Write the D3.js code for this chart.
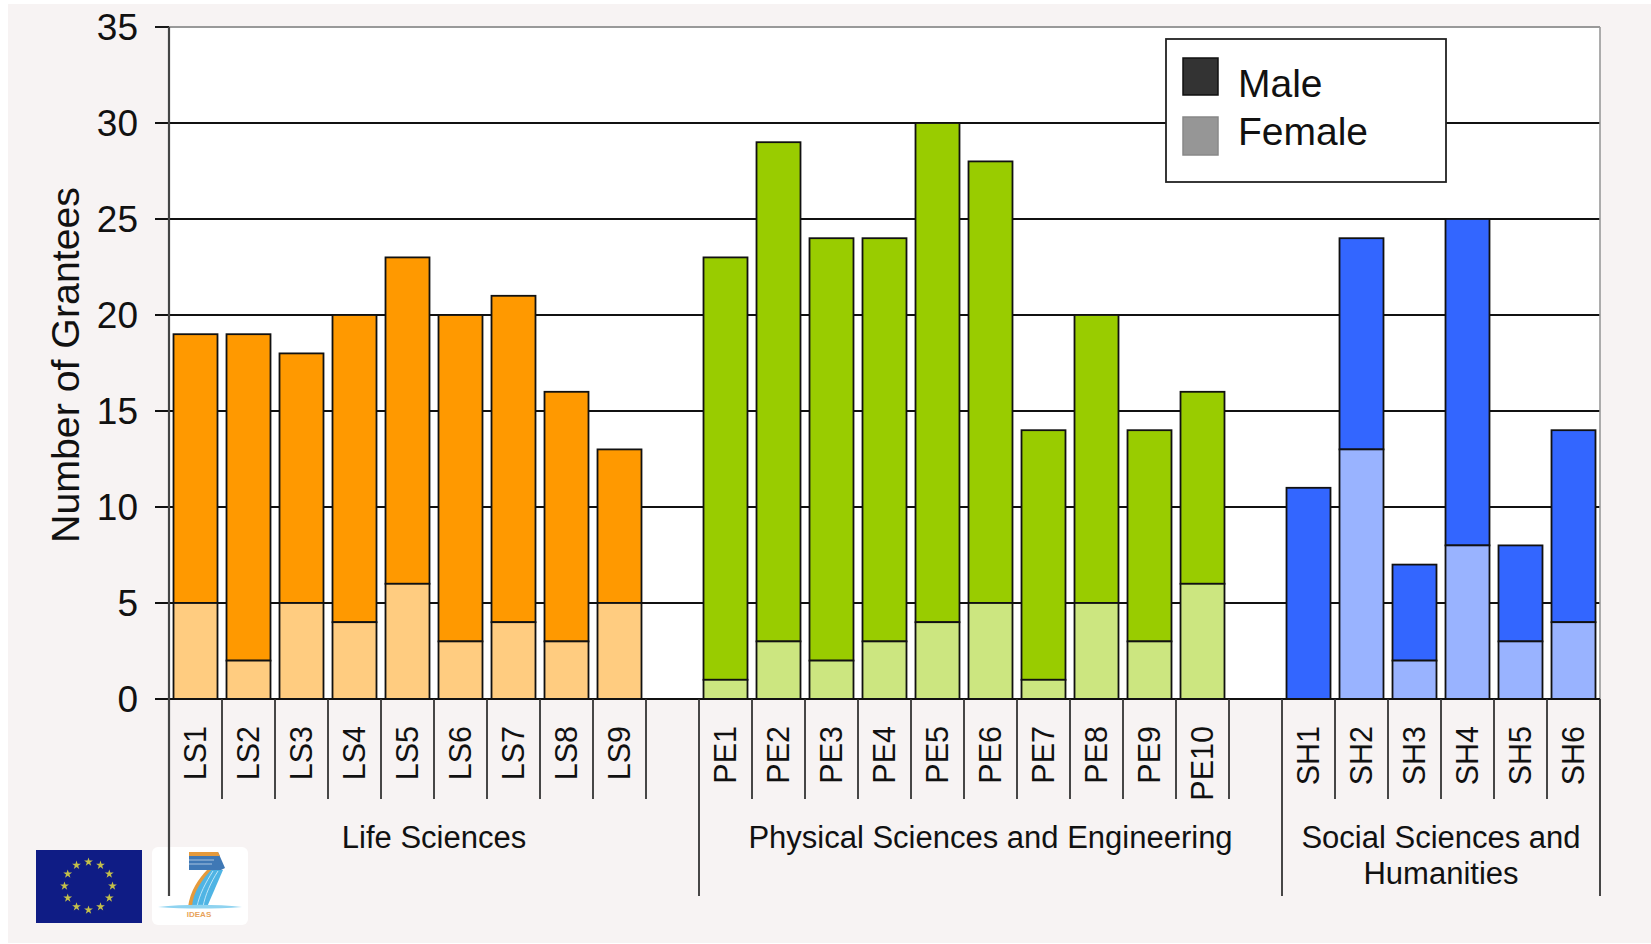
<!DOCTYPE html>
<html>
<head>
<meta charset="utf-8">
<script src="https://cdn.jsdelivr.net/npm/d3@7"></script>
<style>
  html, body { margin: 0; padding: 0; background: #fff; }
  svg { display: block; }
  text { font-family: "Liberation Sans", Arial, sans-serif; fill: #111; }
</style>
</head>
<body>
<div id="chart"></div>
<script>
// data
const lsCategories = ["LS1", "LS2", "LS3", "LS4", "LS5", "LS6", "LS7", "LS8", "LS9"];
const peCategories = ["PE1", "PE2", "PE3", "PE4", "PE5", "PE6", "PE7", "PE8", "PE9", "PE10"];
const shCategories = ["SH1", "SH2", "SH3", "SH4", "SH5", "SH6"];

const lsTotal = [19, 19, 18, 20, 23, 20, 21, 16, 13];
const lsFemale = [5, 2, 5, 4, 6, 3, 4, 3, 5];
const peTotal = [23, 29, 24, 24, 30, 28, 14, 20, 14, 16];
const peFemale = [1, 3, 2, 3, 4, 5, 1, 5, 3, 6];
const shTotal = [11, 24, 7, 25, 8, 14];
const shFemale = [0, 13, 2, 8, 3, 4];

const yTicks = [0, 5, 10, 15, 20, 25, 30, 35];
const groupNames = [["Life Sciences"], ["Physical Sciences and Engineering"], ["Social Sciences and", "Humanities"]];
const legendLabels = ["Male", "Female"];
const legendColors = ["#333333", "#969696"];

const groups = [
    { cats: lsCategories, total: lsTotal, female: lsFemale, male: "#ff9900", light: "#ffcc80" },
    { cats: peCategories, total: peTotal, female: peFemale, male: "#99cc00", light: "#cce680" },
    { cats: shCategories, total: shTotal, female: shFemale, male: "#3366ff", light: "#99b3ff" }
];

const W = 1651, H = 944;
const margin = { top: 27, right: 51, bottom: 245, left: 169 };
const plotW = W - margin.left - margin.right,
    plotH = H - margin.top - margin.bottom;

const svg = d3.select("#chart").append("svg")
    .attr("width", W)
    .attr("height", H);

// page background, the picture has a thin white edge top and left
svg.append("rect").attr("x", 8).attr("y", 4).attr("width", W - 8).attr("height", H - 5).attr("fill", "#f7f3f3");

const g = svg.append("g").attr("transform", "translate(" + margin.left + "," + margin.top + ")");

// two blank slots keep the groups apart
const slots = [...lsCategories, "gap1", ...peCategories, "gap2", ...shCategories];
const x = d3.scaleBand().domain(slots).range([0, plotW]).paddingInner(0.17).paddingOuter(0.085);
const y = d3.scaleLinear().domain([0, 35]).range([plotH, 0]);
const step = x.step();

g.append("rect").attr("width", plotW).attr("height", plotH).attr("fill", "#fff");

// gridlines and left ticks
const yAxis = g.append("g")
    .call(d3.axisLeft(y).tickValues(yTicks).tickSize(0).tickPadding(31).tickFormat(d3.format("d")));
yAxis.select(".domain").remove();
yAxis.selectAll("text").style("font-size", "37px").attr("dy", "0.34em");

g.selectAll("line.grid")
    .data(yTicks)
    .enter()
    .append("line")
    .attr("class", "grid")
    .attr("x1", -14)
    .attr("x2", plotW)
    .attr("y1", d => y(d))
    .attr("y2", d => y(d))
    .attr("stroke", d => d === 35 ? "#999" : "#111")
    .attr("stroke-width", 1.9);
g.append("line").attr("x1", -14).attr("x2", 0).attr("y1", y(35)).attr("y2", y(35)).attr("stroke", "#111").attr("stroke-width", 1.9);

// right border
g.append("line").attr("x1", plotW).attr("x2", plotW).attr("y1", 0).attr("y2", plotH).attr("stroke", "#999").attr("stroke-width", 1.6);

// bars, female at the bottom and male stacked on top
groups.forEach(group => {
    const rows = group.cats.map((c, i) => ({ cat: c, total: group.total[i], female: group.female[i] }));

    g.selectAll("rect.male-" + group.cats[0])
        .data(rows)
        .enter()
        .append("rect")
        .attr("class", "male-" + group.cats[0])
        .attr("x", d => x(d.cat))
        .attr("y", d => y(d.total))
        .attr("width", x.bandwidth())
        .attr("height", d => y(d.female) - y(d.total))
        .attr("fill", group.male)
        .attr("stroke", "#111")
        .attr("stroke-width", 1.8);

    g.selectAll("rect.female-" + group.cats[0])
        .data(rows.filter(d => d.female > 0))
        .enter()
        .append("rect")
        .attr("class", "female-" + group.cats[0])
        .attr("x", d => x(d.cat))
        .attr("y", d => y(d.female))
        .attr("width", x.bandwidth())
        .attr("height", d => y(0) - y(d.female))
        .attr("fill", group.light)
        .attr("stroke", "#111")
        .attr("stroke-width", 1.8);
});

// redraw the baseline over the bars
g.append("line").attr("x1", -14).attr("x2", plotW).attr("y1", plotH).attr("y2", plotH).attr("stroke", "#111").attr("stroke-width", 2);

// multi level x axis, labels read upward and line up at their top end
const bottomAxis = g.append("g")
    .attr("transform", "translate(0," + plotH + ")")
    .call(d3.axisBottom(x).tickValues(slots.filter(s => !s.startsWith("gap"))).tickSize(0).tickFormat(d => d));
bottomAxis.select(".domain").remove();
bottomAxis.selectAll("text")
    .attr("transform", "translate(0,27)rotate(-90)")
    .attr("x", 0)
    .attr("y", 0)
    .attr("dy", "0.36em")
    .style("text-anchor", "end")
    .style("font-size", "30.5px");

// short ticks after each category, long ones at group edges
const shortEdges = [], longEdges = [0];
let pos = 0;
groups.forEach((group, i) => {
    group.cats.forEach(() => { pos += 1; shortEdges.push(pos); });
    if (i < groups.length - 1) { pos += 1; longEdges.push(pos); }
});
longEdges.push(slots.length);

g.selectAll("line.short")
    .data(shortEdges.filter(d => d < slots.length))
    .enter()
    .append("line")
    .attr("class", "short")
    .attr("x1", d => d * step)
    .attr("x2", d => d * step)
    .attr("y1", plotH)
    .attr("y2", plotH + 100)
    .attr("stroke", "#333")
    .attr("stroke-width", 1.8);

g.selectAll("line.long")
    .data(longEdges)
    .enter()
    .append("line")
    .attr("class", "long")
    .attr("x1", d => d * step)
    .attr("x2", d => d * step)
    .attr("y1", d => d === 0 ? 0 : plotH)
    .attr("y2", plotH + 197)
    .attr("stroke", (d, i) => i === 0 ? "#444" : "#333")
    .attr("stroke-width", (d, i) => i === 0 ? 2.2 : 1.8);

// group names sit in the middle of the span between the long ticks
groupNames.forEach((lines, i) => {
    const mid = (longEdges[i] + longEdges[i + 1]) / 2 * step;
    lines.forEach((line, j) => {
        g.append("text")
            .attr("x", mid)
            .attr("y", plotH + 149 + j * 36)
            .attr("text-anchor", "middle")
            .style("font-size", "31px")
            .text(line);
    });
});

// y title
svg.append("text")
    .attr("transform", "translate(79,365)rotate(-90)")
    .attr("text-anchor", "middle")
    .style("font-size", "39.3px")
    .text("Number of Grantees");

// legend
const legend = svg.append("g");
legend.append("rect").attr("x", 1166).attr("y", 39).attr("width", 280).attr("height", 143)
    .attr("fill", "#fff").attr("stroke", "#222").attr("stroke-width", 1.8);
legendLabels.forEach((label, i) => {
    legend.append("rect")
        .attr("x", 1183)
        .attr("y", i === 0 ? 58 : 117)
        .attr("width", 35)
        .attr("height", i === 0 ? 37 : 38)
        .attr("fill", legendColors[i])
        .attr("stroke", i === 0 ? "#111" : "#888")
        .attr("stroke-width", 1.5);
    legend.append("text")
        .attr("x", 1238)
        .attr("y", i === 0 ? 97 : 145)
        .style("font-size", "39px")
        .text(label);
});

// EU flag
const flag = svg.append("g");
flag.append("rect").attr("x", 36).attr("y", 850).attr("width", 106).attr("height", 73).attr("fill", "#0f1c85");
const star = d3.symbol().type(d3.symbolStar).size(24);
d3.range(12).forEach(i => {
    const a = i * Math.PI / 6;
    flag.append("path")
        .attr("d", star())
        .attr("transform", "translate(" + (88.5 + 24 * Math.sin(a)) + "," + (886 - 24 * Math.cos(a)) + ")")
        .attr("fill", "#c4c04a");
});

// FP7 logo
const logo = svg.append("g");
logo.append("rect").attr("x", 152).attr("y", 847).attr("width", 96).attr("height", 78).attr("rx", 6).attr("fill", "#fff");
logo.append("line").attr("x1", 169).attr("x2", 169).attr("y1", 847).attr("y2", 896).attr("stroke", "#444").attr("stroke-width", 2.2);
logo.append("path").attr("d", "M189 852H218L225 868L221 870H189Z").attr("fill", "#3f78b5");
logo.append("path").attr("d", "M189 852H218L220 856H189Z").attr("fill", "#e59a3c");
logo.append("path").attr("d", "M189 860H214M189 864H212").attr("stroke", "#a9c4e0").attr("stroke-width", 1);
logo.append("path").attr("d", "M209 870L223 870L207 907H191C192 892 200 879 209 870Z").attr("fill", "#4fb4e4");
logo.append("path").attr("d", "M197 907C199 895 206 882 213 871M203 907C205 895 211 882 218 871").attr("fill", "none").attr("stroke", "#bfe5f7").attr("stroke-width", 1);
logo.append("path").attr("d", "M188 907C190 891 199 878 207 870L211 870C203 879 193 891 192 907Z").attr("fill", "#e59a3c");
logo.append("path").attr("d", "M158 907C185 904 215 904 242 907C215 909 185 909 158 907Z").attr("fill", "#8fd3f0");
logo.append("text").attr("x", 199).attr("y", 917).attr("text-anchor", "middle").style("font-size", "8px").style("font-weight", "bold").style("fill", "#e8a35a").text("IDEAS");
</script>
</body>
</html>
